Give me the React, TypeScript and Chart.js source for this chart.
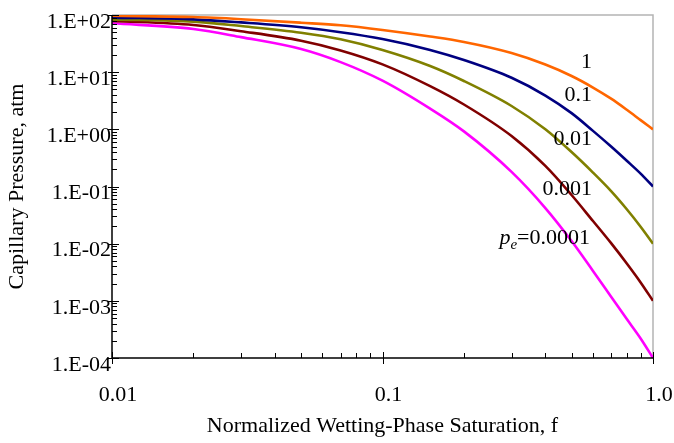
import React, { useEffect, useRef } from 'react';
import { Chart, registerables } from 'chart.js';

Chart.register(...registerables);

// Normalized wetting-phase saturation f
const saturation = [0.01, 0.02, 0.03, 0.05, 0.07, 0.1, 0.15, 0.2, 0.3, 0.4, 0.5, 0.6, 0.7, 0.8, 0.9, 1.0];

// Capillary pressure (atm) for each entry pressure pe
const pcPe1 = [97, 92, 84.5, 73.3, 66, 54.7, 42, 33.7, 21.6, 13.6, 8.57, 5.39, 3.44, 2.2, 1.45, 1.0];
const pcPe01 = [90, 84, 74.2, 61, 50, 38, 24.5, 16.3, 7.98, 3.9, 1.92, 0.94, 0.5, 0.282, 0.168, 0.1];
const pcPe001 = [84, 76.5, 64, 49, 37.6, 24.4, 12.8, 7.0, 2.56, 1.0, 0.4, 0.175, 0.083, 0.04, 0.0198, 0.01];
const pcPe0001 = [79, 67, 52, 35.5, 24, 13.7, 5.7, 2.72, 0.764, 0.229, 0.071, 0.0249, 0.0102, 0.0045, 0.0021, 0.001];
const pcPe00001 = [71.6, 57, 41, 25.4, 15.0, 7.1, 2.3, 0.92, 0.18, 0.042, 0.0111, 0.00333, 0.00118, 0.00048, 0.00022, 0.0001];

const seriesNames = ['1', '0.1', '0.01', '0.001', 'pe=0.0001'];
const seriesColors = ['#FF6600', '#000080', '#808000', '#800000', '#FF00FF'];

const xTickValues = [0.01, 0.1, 1];
const xTickLabels = ['0.01', '0.1', '1.0'];
const yTickValues = [1e-4, 1e-3, 1e-2, 1e-1, 1e0, 1e1, 1e2];
const yTickLabels = ['1.E-04', '1.E-03', '1.E-02', '1.E-01', '1.E+00', '1.E+01', '1.E+02'];

const xTitle = 'Normalized Wetting-Phase Saturation, f';
const yTitle = 'Capillary Pressure, atm';

const FONT = '"Liberation Serif", "Times New Roman", serif';

const decorPlugin = {
  id: 'decor',
  beforeDatasetsDraw(chart: any) {
    const { ctx, chartArea: a } = chart;
    ctx.save();
    ctx.strokeStyle = '#B4B4B4';
    ctx.lineWidth = 1.5;
    ctx.beginPath();
    ctx.moveTo(a.left, a.top);
    ctx.lineTo(a.right, a.top);
    ctx.lineTo(a.right, a.bottom);
    ctx.stroke();
    ctx.restore();
  },
  afterDatasetsDraw(chart: any) {
    const { ctx, chartArea: a, scales } = chart;
    const xs = scales.x;
    const ys = scales.y;
    ctx.save();
    ctx.strokeStyle = '#000';
    ctx.lineWidth = 1.5;
    ctx.beginPath();
    ctx.moveTo(a.left, a.top);
    ctx.lineTo(a.left, a.bottom);
    ctx.lineTo(a.right, a.bottom);
    ctx.stroke();
    ctx.lineWidth = 1;
    ctx.beginPath();
    for (let n = -4; n <= 2; n++) {
      for (let m = 1; m <= 9; m++) {
        const v = m * Math.pow(10, n);
        if (v > 100.0001) break;
        const py = Math.round(ys.getPixelForValue(v)) + 0.5;
        if (m === 1) {
          ctx.moveTo(a.left - 4, py);
          ctx.lineTo(a.left + 7, py);
        } else {
          ctx.moveTo(a.left, py);
          ctx.lineTo(a.left + 5, py);
        }
      }
    }
    for (let n = -2; n <= 0; n++) {
      for (let m = 1; m <= 9; m++) {
        const v = m * Math.pow(10, n);
        if (v > 1.0001) break;
        const px = Math.round(xs.getPixelForValue(v)) + 0.5;
        if (m === 1) {
          ctx.moveTo(px, a.bottom - 6);
          ctx.lineTo(px, a.bottom + 6);
        } else {
          ctx.moveTo(px, a.bottom);
          ctx.lineTo(px, a.bottom - 5);
        }
      }
    }
    ctx.stroke();
    ctx.restore();
  },
  afterDraw(chart: any) {
    const { ctx } = chart;
    ctx.save();
    ctx.fillStyle = '#000';
    ctx.textAlign = 'right';
    ctx.textBaseline = 'alphabetic';
    ctx.font = `22px ${FONT}`;
    const baselines = [68, 101, 145, 195];
    for (let i = 0; i < 4; i++) {
      ctx.fillText(seriesNames[i], 592, baselines[i]);
    }
    const eq = '=0.0001';
    const rx = 590;
    const by = 244;
    ctx.fillText(eq, rx, by);
    const w = ctx.measureText(eq).width;
    ctx.font = `italic 15px ${FONT}`;
    ctx.fillText('e', rx - w, by + 5);
    const we = ctx.measureText('e').width;
    ctx.font = `italic 22px ${FONT}`;
    ctx.fillText('p', rx - w - we, by);
    ctx.restore();
  },
};

export default function App() {
  const canvasRef = useRef<HTMLCanvasElement | null>(null);

  useEffect(() => {
    const canvas = canvasRef.current;
    if (!canvas) return;
    const series = [pcPe1, pcPe01, pcPe001, pcPe0001, pcPe00001];
    const chart = new Chart(canvas, {
      type: 'line',
      data: {
        datasets: series.map((vals, i) => ({
          label: seriesNames[i],
          data: saturation.map((f, j) => ({ x: f, y: vals[j] })),
          borderColor: seriesColors[i],
          backgroundColor: seriesColors[i],
          borderWidth: 2.6,
          pointRadius: 0,
          fill: false,
          cubicInterpolationMode: 'monotone' as const,
        })),
      },
      options: {
        responsive: false,
        animation: false,
        events: [],
        layout: { padding: { left: 0, top: 15, right: 21, bottom: 0 }, autoPadding: false },
        plugins: { legend: { display: false }, tooltip: { enabled: false } },
        scales: {
          x: {
            type: 'logarithmic',
            min: 0.01,
            max: 1,
            grid: { display: false, drawTicks: false },
            border: { display: false },
            afterBuildTicks: (s: any) => {
              s.ticks = xTickValues.map((value) => ({ value }));
            },
            afterFit: (s: any) => {
              s.height = 85;
              s.paddingLeft = 0;
              s.paddingRight = 0;
            },
            ticks: {
              autoSkip: false,
              maxRotation: 0,
              padding: 24,
              labelOffset: 6,
              color: '#000',
              font: { family: FONT, size: 22 },
              callback: (_v: any, i: number) => xTickLabels[i],
            },
            title: {
              display: true,
              text: xTitle,
              color: '#000',
              font: { family: FONT, size: 22 },
              padding: { top: 0, bottom: 4 },
            },
          },
          y: {
            type: 'logarithmic',
            min: 1e-4,
            max: 1e2,
            grid: { display: false, drawTicks: false },
            border: { display: false },
            afterBuildTicks: (s: any) => {
              s.ticks = yTickValues.map((value) => ({ value }));
            },
            afterFit: (s: any) => {
              s.width = 112;
              s.paddingTop = 0;
              s.paddingBottom = 0;
            },
            ticks: {
              autoSkip: false,
              padding: 1,
              labelOffset: 7,
              color: '#000',
              font: { family: FONT, size: 22 },
              callback: (_v: any, i: number) => yTickLabels[i],
            },
            title: {
              display: true,
              text: yTitle,
              color: '#000',
              font: { family: FONT, size: 22 },
              padding: { top: 4, bottom: 0 },
            },
          },
        },
      },
      plugins: [decorPlugin],
    });
    return () => chart.destroy();
  }, []);

  return (
    <div style={{ position: 'absolute', left: 0, top: 0, width: 674, height: 443, background: '#fff' }}>
      <canvas ref={canvasRef} width={674} height={443} />
    </div>
  );
}
